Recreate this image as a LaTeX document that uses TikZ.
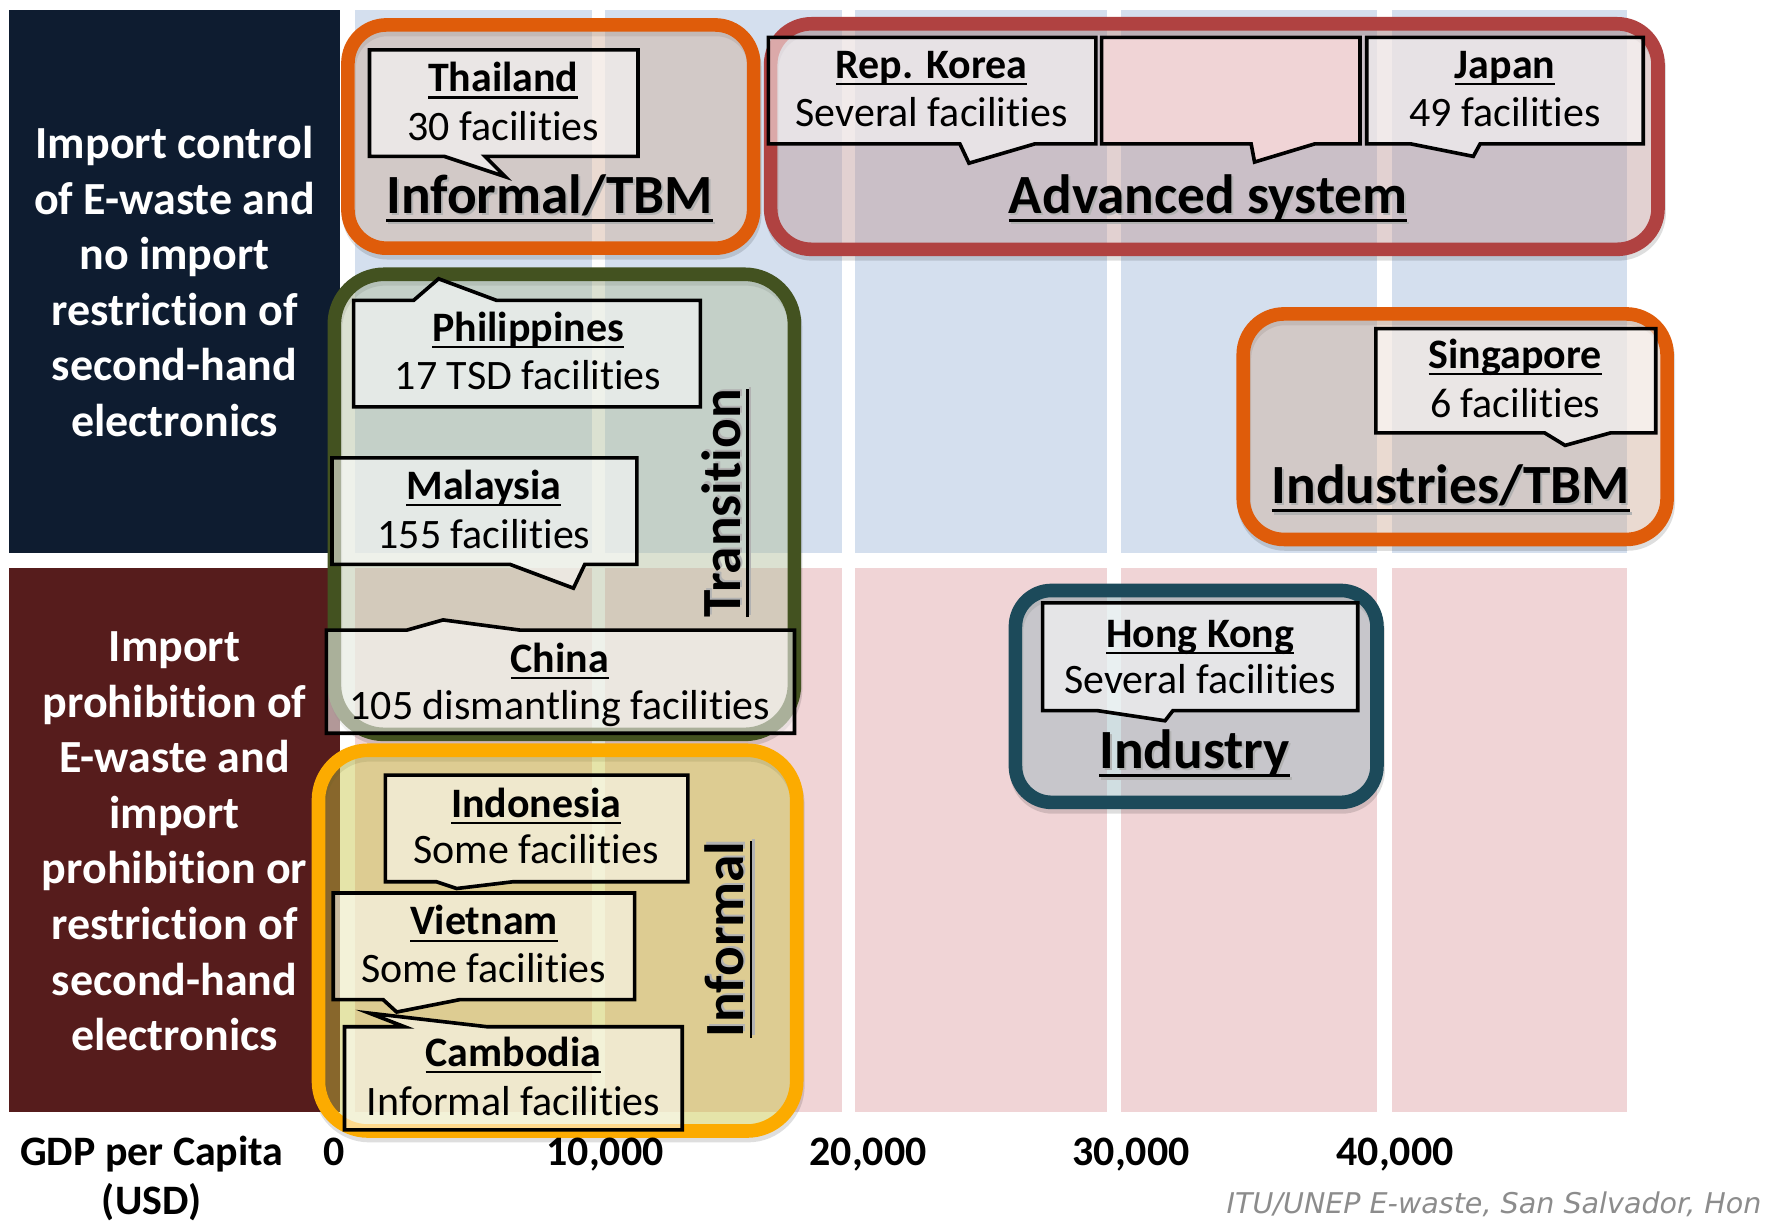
\documentclass[tikz,border=0pt]{standalone}
\usepackage{fontspec}
\setmainfont[Ligatures={NoCommon}]{Carlito}
\newfontfamily\footfont{DejaVu Sans}
\newcommand\uln[1]{\setbox0=\hbox{#1}\leavevmode\rlap{\rule[-0.16em]{\wd0}{0.05em}}\box0}
\newcommand\shad[1]{\leavevmode\rlap{\kern0.9pt\raisebox{-1.1pt}{\textcolor{black!30}{#1}}}#1}
\definecolor{cNavy}{HTML}{0E1C30}
\definecolor{cMaroon}{HTML}{561C1C}
\definecolor{cBlue}{HTML}{D4DFEE}
\definecolor{cPink}{HTML}{F0D4D6}
\definecolor{cOrange}{HTML}{DF5C0A}
\definecolor{cRed}{HTML}{B04241}
\definecolor{cGreen}{HTML}{435220}
\definecolor{cGold}{HTML}{FCAB00}
\definecolor{cTeal}{HTML}{1C4A5A}
\definecolor{fTBM}{HTML}{D1AF99}
\definecolor{fAdv}{HTML}{BF9999}
\definecolor{fTrans}{HTML}{B1BE9B}
\definecolor{fInf}{HTML}{C6C441}
\definecolor{fInd}{HTML}{97B7BE}
\begin{document}
\begin{tikzpicture}[x=0.5pt,y=-0.5pt,
  grp/.style={line width=6pt, fill opacity=0.45, line join=round},
  shadowline/.style={line width=6pt, draw=black, draw opacity=0.13},
  callout/.style={draw=black, line width=1.6pt, fill=white, fill opacity=0.55, line join=miter},
  ctitle/.style={anchor=base, font=\bfseries\fontsize{18.5}{22}\selectfont, inner sep=0pt},
  ctext/.style={anchor=base, font=\fontsize{18.5}{22}\selectfont, inner sep=0pt},
  biglab/.style={anchor=base, font=\bfseries\fontsize{24.4}{29}\selectfont, inner sep=0pt},
  sidelab/.style={anchor=base, font=\bfseries\fontsize{20.3}{24}\selectfont, text=white, inner sep=0pt},
  axislab/.style={anchor=base, font=\bfseries\fontsize{18.5}{22}\selectfont, inner sep=0pt}]

\useasboundingbox (0,0) rectangle (1568,1081);
\fill[white] (0,0) rectangle (1568,1081);

% row headers
\fill[cNavy] (8,9) rectangle (300,488);
\fill[cMaroon] (8,501) rectangle (300,981);

% grid cells
\foreach \a/\b in {313/522, 534/743, 754/977, 989/1215, 1228/1436} {
  \fill[cBlue] (\a,9) rectangle (\b,488);
  \fill[cPink] (\a,501) rectangle (\b,981);
}

% header texts
\foreach \t [count=\i] in {Import control, of E-waste and, no import, restriction of, second-hand, electronics}
  \node[sidelab] (ha\i) at (154,{140+49*(\i-1)}) {\t};
\foreach \t [count=\i] in {Import, prohibition of, E-waste and, import, prohibition or, restriction of, second-hand, electronics}
  \node[sidelab] (hb\i) at (154,{584+49*(\i-1)}) {\t};

% group boxes
\draw[shadowline, rounded corners=17pt, shift={(1,4)}] (307,22) rectangle (665,219);
\draw[grp, draw=cOrange, fill=fTBM, rounded corners=17pt] (307,22) rectangle (665,219);

\draw[shadowline, rounded corners=18pt, shift={(1,4)}] (680,21) rectangle (1463,220);
\draw[grp, draw=cRed, fill=fAdv, rounded corners=18pt] (680,21) rectangle (1463,220);

\draw[shadowline, rounded corners=18pt, shift={(1,4)}] (1097,277) rectangle (1471,476);
\draw[grp, draw=cOrange, fill=fTBM, rounded corners=18pt] (1097,277) rectangle (1471,476);

\draw[shadowline, rounded corners=16pt, shift={(1,4)}] (896,521) rectangle (1215,708);
\draw[grp, draw=cTeal, fill=fInd, rounded corners=16pt] (896,521) rectangle (1215,708);

\draw[shadowline, rounded corners=22pt, shift={(1,4)}] (295,242) rectangle (701,648);
\draw[grp, draw=cGreen, fill=fTrans, rounded corners=22pt] (295,242) rectangle (701,648);

\draw[shadowline, rounded corners=22pt, shift={(1,4)}] (281,662) rectangle (703,998);
\draw[grp, draw=cGold, fill=fInf, rounded corners=22pt] (281,662) rectangle (703,998);

% callouts
\path[callout] (326,44) -- (563,44) -- (563,138) -- (428,138) -- (446,156) -- (392,138) -- (326,138) -- cycle;
\path[callout] (678,33) -- (967,33) -- (967,127) -- (913,127) -- (855,144) -- (847,127) -- (678,127) -- cycle;
\path[callout, fill=cPink, fill opacity=1] (972,33) -- (1200,33) -- (1200,127) -- (1160,127) -- (1107,143) -- (1104,127) -- (972,127) -- cycle;
\path[callout] (1206,33) -- (1450,33) -- (1450,127) -- (1306,127) -- (1300,138) -- (1245,127) -- (1206,127) -- cycle;
\path[callout] (312,265) -- (365,265) -- (387,246) -- (438,265) -- (618,265) -- (618,359) -- (312,359) -- cycle;
\path[callout] (293,404) -- (562,404) -- (562,498) -- (516,498) -- (506,519) -- (450,498) -- (293,498) -- cycle;
\path[callout] (288,556) -- (359,556) -- (391,547) -- (459,556) -- (701,556) -- (701,647) -- (288,647) -- cycle;
\path[callout] (340,684) -- (607,684) -- (607,778) -- (453,778) -- (403,784) -- (385,778) -- (340,778) -- cycle;
\path[callout] (294,788) -- (560,788) -- (560,882) -- (406,882) -- (350,893) -- (338,882) -- (294,882) -- cycle;
\path[callout] (304,906) -- (357,906) -- (326,894) -- (430,906) -- (602,906) -- (602,997) -- (304,997) -- cycle;
\path[callout] (1214,290) -- (1461,290) -- (1461,382) -- (1421,382) -- (1381,393) -- (1363,382) -- (1214,382) -- cycle;
\path[callout] (920,532) -- (1198,532) -- (1198,627) -- (1035,627) -- (1028,636) -- (968,627) -- (920,627) -- cycle;

% callout texts
\node[ctitle] (th1) at (444,81) {\uln{Thailand}};
\node[ctext]  (th2) at (444,124) {30 facilities};
\node[ctitle] (kr1) at (822,69) {\uln{Rep. Korea}};
\node[ctext]  (kr2) at (822,112) {Several facilities};
\node[ctitle] (jp1) at (1328,69) {\uln{Japan}};
\node[ctext]  (jp2) at (1328,112) {49 facilities};
\node[ctitle] (ph1) at (466,301) {\uln{Philippines}};
\node[ctext]  (ph2) at (466,344) {17 TSD facilities};
\node[ctitle] (my1) at (427,441) {\uln{Malaysia}};
\node[ctext]  (my2) at (427,484) {155 facilities};
\node[ctitle] (cn1) at (494,593) {\uln{China}};
\node[ctext]  (cn2) at (494,635) {105 dismantling facilities};
\node[ctitle] (id1) at (473,721) {\uln{Indonesia}};
\node[ctext]  (id2) at (473,762) {Some facilities};
\node[ctitle] (vn1) at (427,825) {\uln{Vietnam}};
\node[ctext]  (vn2) at (427,867) {Some facilities};
\node[ctitle] (kh1) at (453,941) {\uln{Cambodia}};
\node[ctext]  (kh2) at (453,984) {Informal facilities};
\node[ctitle] (sg1) at (1337,325) {\uln{Singapore}};
\node[ctext]  (sg2) at (1337,368) {6 facilities};
\node[ctitle] (hk1) at (1059,571) {\uln{Hong Kong}};
\node[ctext]  (hk2) at (1059,612) {Several facilities};

% group labels
\node[biglab] (g1) at (485,188) {\shad{\uln{Informal/TBM}}};
\node[biglab] (g2) at (1066,188) {\shad{\uln{Advanced system}}};
\node[biglab] (g3) at (1280,444) {\shad{\uln{Industries/TBM}}};
\node[biglab] (g4) at (1054,678) {\shad{\uln{Industry}}};
\node[biglab, rotate=90] (g5) at (653,444) {\shad{\uln{Transition}}};
\node[biglab, rotate=90] (g6) at (656,829) {\shad{\uln{Informal}}};

% axis
\node[axislab] (ax0) at (134,1028) {GDP per Capita};
\node[axislab] (ax1) at (134,1072) {(USD)};
\node[axislab] (ax2) at (295,1028) {0};
\node[axislab] (ax3) at (534,1028) {10,000};
\node[axislab] (ax4) at (766,1028) {20,000};
\node[axislab] (ax5) at (998,1028) {30,000};
\node[axislab] (ax6) at (1231,1028) {40,000};

% source
\node[anchor=base west, inner sep=0pt, font=\footfont\itshape\fontsize{12.6}{15}\selectfont, text=black!45] (src) at (1082,1071) {ITU/UNEP E-waste, San Salvador, Hon};
\end{tikzpicture}
\end{document}
